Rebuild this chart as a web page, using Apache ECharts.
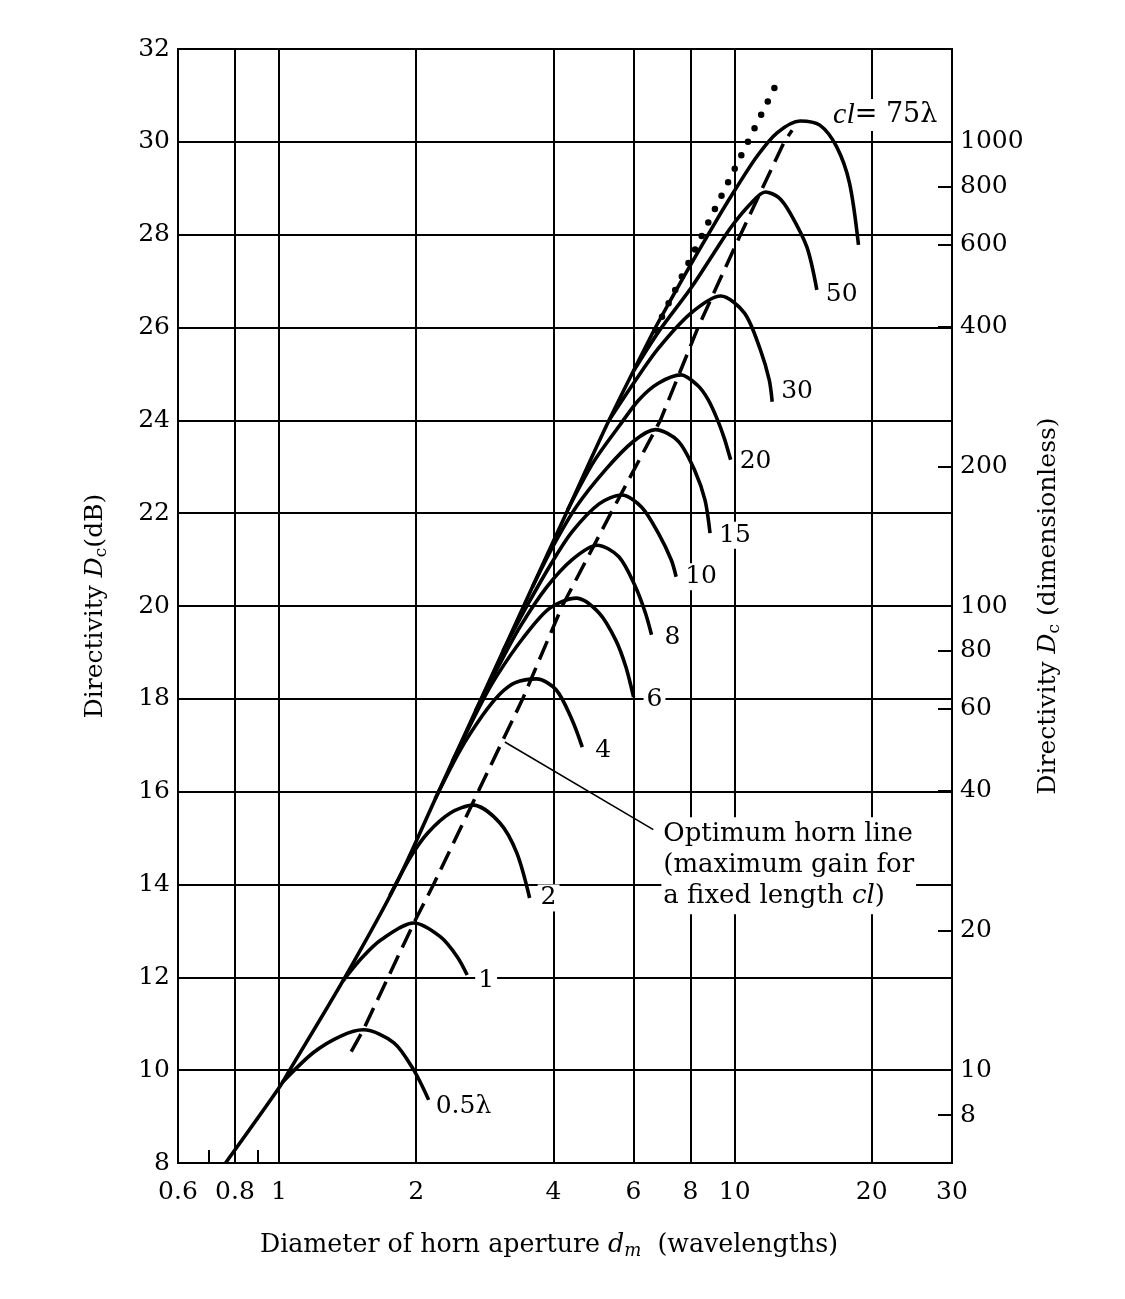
<!DOCTYPE html>
<html><head><meta charset="utf-8">
<style>html,body{margin:0;padding:0;background:#fff}#c{width:1125px;height:1299px}</style>
<script src="https://cdn.jsdelivr.net/npm/echarts@6/dist/echarts.min.js"></script>
</head><body><div id="c"></div>
<script>
// ---- axis values ----
const xLabelValues = [0.6, 0.8, 1, 2, 4, 6, 8, 10, 20, 30];
const xMinorTicks = [0.7, 0.9];
const rightDimensionless = [8, 10, 20, 40, 60, 80, 100, 200, 400, 600, 800, 1000];

// ---- curves: [aperture diameter d (wavelengths), directivity (dB)] ----
const envelope = [[0.763, 8], [1.0, 9.62], [1.055, 10], [1.395, 12], [1.805, 14], [2.239, 16], [2.777, 18], [3.443, 20], [4.27, 22], [5.30, 24], [6.70, 26]];
const uniformDotted = [[6.7, 25.94], [7.79, 27.25], [9.05, 28.55], [10.51, 29.85], [12.35, 31.25]];
const optimumLine = [[1.44, 10.4], [1.531, 10.87], [1.976, 13.17], [2.183, 14.0], [2.735, 16.0], [3.426, 18.0], [4.184, 20.0], [5.35, 22.0], [6.87, 24.0], [8.31, 26.0], [10.3, 28.0], [12.85, 30.0], [13.37, 30.25]];
const cl_0_5 = [[1.015, 9.73], [1.19, 10.38], [1.37, 10.74], [1.531, 10.87], [1.787, 10.59], [1.976, 10.0], [2.13, 9.36]];
const cl_1 = [[1.38, 11.92], [1.52, 12.42], [1.675, 12.81], [1.976, 13.17], [2.262, 12.87], [2.462, 12.44], [2.588, 12.05]];
const cl_2 = [[1.75, 13.76], [1.946, 14.6], [2.12, 15.11], [2.377, 15.54], [2.667, 15.71], [3.05, 15.33], [3.325, 14.68], [3.548, 13.71]];
const cl_4 = [[2.2, 15.84], [2.5, 16.9], [2.8, 17.65], [3.05, 18.1], [3.3, 18.35], [3.675, 18.43], [4.06, 18.19], [4.40, 17.54], [4.63, 16.96]];
const cl_6 = [[2.4, 16.65], [2.76, 17.85], [3.008, 18.5], [3.426, 19.3], [3.922, 19.95], [4.49, 20.17], [5.04, 19.85], [5.48, 19.27], [5.77, 18.69], [6.0, 18.04]];
const cl_8 = [[2.7, 17.74], [3.05, 18.75], [3.38, 19.55], [3.864, 20.4], [4.40, 21.0], [4.99, 21.31], [5.57, 21.06], [6.06, 20.41], [6.37, 19.85], [6.57, 19.38]];
const cl_10 = [[3.1, 19.03], [3.5, 20.0], [3.95, 20.9], [4.40, 21.6], [5.04, 22.2], [5.65, 22.39], [6.25, 22.13], [6.80, 21.57], [7.26, 20.99], [7.44, 20.63]];
const cl_15 = [[3.6, 20.41], [4.0, 21.3], [4.5, 22.15], [5.22, 22.95], [6.0, 23.55], [6.70, 23.8], [7.52, 23.55], [8.19, 22.9], [8.61, 22.28], [8.83, 21.57]];
const cl_20 = [[4.3, 22.07], [4.9, 23.1], [5.6, 23.9], [6.16, 24.44], [6.80, 24.8], [7.63, 24.98], [8.3, 24.75], [8.74, 24.45], [9.18, 24.0], [9.5, 23.6], [9.80, 23.15]];
const cl_30 = [[5.3, 24.0], [6.0, 24.8], [6.80, 25.55], [8.02, 26.31], [9.32, 26.68], [10.51, 26.31], [11.39, 25.52], [11.91, 24.87], [12.09, 24.4]];
const cl_50 = [[6.0, 25.06], [6.8, 25.9], [8.02, 26.85], [9.0, 27.6], [9.80, 28.15], [10.8, 28.65], [11.68, 28.92], [12.5, 28.8], [13.23, 28.47], [14.41, 27.73], [15.15, 26.81]];
const cl_75 = [[6.70, 26.0], [7.79, 27.15], [9.05, 28.25], [10.0, 28.95], [11.22, 29.7], [12.41, 30.2], [13.92, 30.45], [15.38, 30.36], [16.75, 29.89], [17.87, 29.11], [18.7, 27.78]];
const leaderLine = [[3.13, 17.07], [6.63, 15.18]];

const curveLabels = ['0.5λ', '1', '2', '4', '6', '8', '10', '15', '20', '30', '50'];
const curveData = [cl_0_5, cl_1, cl_2, cl_4, cl_6, cl_8, cl_10, cl_15, cl_20, cl_30, cl_50];
const labelOffsets = [[0, 7], [4, 5], [4, 0], [6, 3], [6, 3], [6, 3], [2, 0], [2, 2], [2, 2], [2, -10], [2, 5]];

const FONT = 'DejaVu Serif';
const BLACK = '#000';
const richBase = {
  n: {fontFamily: FONT, fontSize: 25, color: BLACK},
  i: {fontFamily: FONT, fontSize: 25, color: BLACK, fontStyle: 'italic'},
  s: {fontFamily: FONT, fontSize: 17, color: BLACK, padding: [12, 0, 0, 0]}
};
const labelStyle = {color: BLACK, fontFamily: FONT, fontSize: 25, backgroundColor: '#fff', padding: [1, 3]};

function curve(data, text, offset) {
  const s = {
    type: 'line', data: data, symbol: 'none', showSymbol: false, smooth: 0.3, silent: true, z: 3,
    lineStyle: {color: BLACK, width: 3.6}
  };
  if (text) {
    s.endLabel = Object.assign({show: true, formatter: text, distance: 4, offset: offset}, labelStyle);
  }
  return s;
}

const series = [];
series.push(curve(envelope));
curveData.forEach((d, k) => series.push(curve(d, curveLabels[k], labelOffsets[k])));
series.push(curve(cl_75));
series.push({
  type: 'line', data: uniformDotted, symbol: 'none', silent: true, z: 4,
  lineStyle: {color: BLACK, width: 6.5, type: [0, 15], cap: 'round'}
});
series.push({
  type: 'line', data: optimumLine, symbol: 'none', silent: true, z: 4,
  lineStyle: {color: BLACK, width: 3.5, type: [20, 9]}
});
series.push({
  type: 'line', data: leaderLine, symbol: 'none', silent: true, z: 4,
  lineStyle: {color: BLACK, width: 1.5},
  endLabel: {
    show: true, distance: 8, offset: [0, 36], align: 'left', backgroundColor: '#fff', padding: [2, 2],
    lineHeight: 31, color: BLACK,
    formatter: '{n|Optimum horn line}\n{n|(maximum gain for}\n{n|a fixed length }{i|cl}{n|)}',
    rich: {
      n: {fontFamily: FONT, fontSize: 26, color: BLACK, lineHeight: 31},
      i: {fontFamily: FONT, fontSize: 26, color: BLACK, fontStyle: 'italic', lineHeight: 31}
    }
  }
});
series.push({
  type: 'scatter', data: [cl_75[6]], symbolSize: 0, silent: true, z: 5,
  itemStyle: {color: BLACK, opacity: 1},
  label: {
    show: true, position: 'right', distance: 30, offset: [0, -6], backgroundColor: '#fff', padding: [1, 3],
    color: BLACK, opacity: 1, textBorderWidth: 0,
    formatter: '{i|cl}{n|= 75λ}',
    rich: {
      n: {fontFamily: FONT, fontSize: 27, color: BLACK, textBorderWidth: 0},
      i: {fontFamily: 'Liberation Serif', fontSize: 30, color: BLACK, fontStyle: 'italic', textBorderWidth: 0}
    }
  }
});

const rightTickDb = rightDimensionless.map(v => 10 * Math.log10(v));

const chart = echarts.init(document.getElementById('c'), null, {renderer: 'canvas'});
chart.setOption({
  animation: false,
  backgroundColor: '#fff',
  grid: {left: 178, right: 173, top: 49, bottom: 136, show: true, borderColor: BLACK, borderWidth: 2, containLabel: false},
  xAxis: [{
    type: 'log', logBase: 10, min: 0.6, max: 30, position: 'bottom',
    axisLine: {show: true, onZero: false, lineStyle: {color: BLACK, width: 2}},
    axisTick: {show: false, customValues: xLabelValues},
    axisLabel: {customValues: xLabelValues, color: BLACK, fontFamily: FONT, fontSize: 25, margin: 17,
      formatter: v => String(+(+v).toPrecision(3))},
    splitLine: {show: true, lineStyle: {color: BLACK, width: 2}},
    name: '{n|Diameter of horn aperture }{i|d}{s|m}{n|  (wavelengths)}',
    nameLocation: 'middle', nameGap: 67,
    nameTextStyle: {padding: [0, 32, 0, 0], rich: {
      n: {fontFamily: FONT, fontSize: 25.3, color: BLACK},
      i: {fontFamily: FONT, fontSize: 25.3, color: BLACK, fontStyle: 'italic'},
      s: {fontFamily: FONT, fontSize: 18, color: BLACK, fontStyle: 'italic', padding: [12, 0, 0, 0]}
    }}
  }, {
    type: 'log', logBase: 10, min: 0.6, max: 30, position: 'bottom',
    axisLine: {show: false, onZero: false},
    axisLabel: {show: false},
    splitLine: {show: false},
    axisTick: {show: true, inside: true, length: 13, customValues: xMinorTicks, lineStyle: {color: BLACK, width: 2}}
  }],
  yAxis: [{
    type: 'value', min: 8, max: 32, interval: 2, position: 'left',
    axisLine: {show: true, onZero: false, lineStyle: {color: BLACK, width: 2}},
    axisTick: {show: false},
    axisLabel: {color: BLACK, fontFamily: FONT, fontSize: 25, margin: 8},
    splitLine: {show: true, lineStyle: {color: BLACK, width: 2}},
    name: '{n|Directivity }{i|D}{s|c}{n|(dB)}',
    nameLocation: 'middle', nameGap: 68,
    nameTextStyle: {rich: richBase}
  }, {
    type: 'value', min: 8, max: 32, position: 'right',
    axisLine: {show: true, onZero: false, lineStyle: {color: BLACK, width: 2}},
    axisTick: {show: true, inside: true, length: 14, customValues: rightTickDb, lineStyle: {color: BLACK, width: 2}},
    axisLabel: {customValues: rightTickDb, color: BLACK, fontFamily: FONT, fontSize: 25, margin: 8,
      formatter: v => String(Math.round(Math.pow(10, v / 10)))},
    splitLine: {show: false},
    name: '{n|Directivity }{i|D}{s|c}{n| (dimensionless)}',
    nameLocation: 'middle', nameGap: 82,
    nameTextStyle: {rich: richBase}
  }],
  series: series
});
</script>
</body></html>
